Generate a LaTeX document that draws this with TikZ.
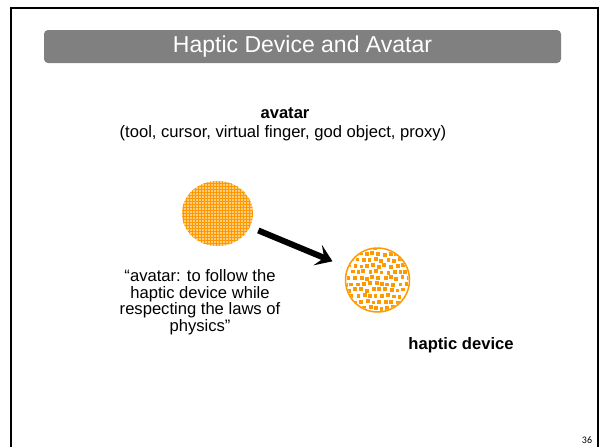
\documentclass[tikz,border=0pt]{standalone}
\usepackage{fontspec}
\setmainfont{Liberation Sans}
\newfontfamily\numfont{Carlito}
\usetikzlibrary{patterns,arrows.meta,shapes.geometric}
\definecolor{hapticorange}{RGB}{255,153,0}
\definecolor{titlegray}{RGB}{128,128,128}
\tikzset{
  bodytext/.style={font=\fontsize{16.6}{16.5}\selectfont, align=center, inner sep=0pt},
  boldtext/.style={font=\fontsize{16.6}{16.5}\selectfont\bfseries, align=center, inner sep=0pt},
  titlebar/.style={fill=titlegray, rounded corners=4pt, draw=none, inner sep=0pt},
}
\begin{document}
\begin{tikzpicture}[x=1pt,y=-1pt]
\useasboundingbox (0,0) rectangle (603,447);
\fill[white] (0,0) rectangle (603,447);
% frame
\draw[line width=2pt] (10.7,447) -- (10.7,7.8) -- (597.5,7.8) -- (597.5,447);
% title bar
\node[titlebar, minimum width=517pt, minimum height=33pt] (title) at (302.5,46.5) {};
\node[text=white, font=\fontsize{23}{26}\selectfont, inner sep=0pt] (titletext) at (title.center) {Haptic Device and Avatar};
% avatar labels
\node[boldtext] (avlabel) at (285,113) {avatar};
\node[bodytext] (avlist) at (283,133) {(tool, cursor, virtual finger, god object, proxy)};
% avatar ball
\node[ellipse, minimum width=71pt, minimum height=65pt, inner sep=0pt, fill=hapticorange!50] (avatarball) at (217.5,213.5) {};
\fill[pattern=grid, pattern color=hapticorange] (217.5,213.5) ellipse [x radius=35.5, y radius=32.5];
% haptic ball
\node[circle, minimum size=64pt, inner sep=0pt, draw=hapticorange, line width=1.5pt, fill=white] (hapticball) at (377.5,280) {};
\begin{scope}
  \clip (377.5,280) circle (31);
  \pgfmathsetseed{11}
  \foreach \i in {0,...,11}{
    \foreach \j in {0,...,11}{
      \pgfmathsetmacro{\px}{344+6*\i+1.0*rand+(mod(\j,2))*3}
      \pgfmathsetmacro{\py}{246+6*\j+1.0*rand}
      \fill[hapticorange] (\px,\py) rectangle ++(3.8,3.8);
    }
  }
\end{scope}
% arrow
\draw[line width=6pt, -{Stealth[length=16pt,width=22pt,inset=7pt]}, shorten <=9pt, shorten >=16pt] (avatarball) -- (hapticball);
% quote
\node[bodytext] (quote) at (200,302) {``avatar: to follow the\\haptic device while\\respecting the laws of\\physics''};
% haptic label
\node[boldtext] (hlabel) at (461,345) {haptic device};
% page number
\node[font=\numfont\fontsize{10}{12}\selectfont, inner sep=0pt] (pagenum) at (587,440) {36};
\end{tikzpicture}
\end{document}
